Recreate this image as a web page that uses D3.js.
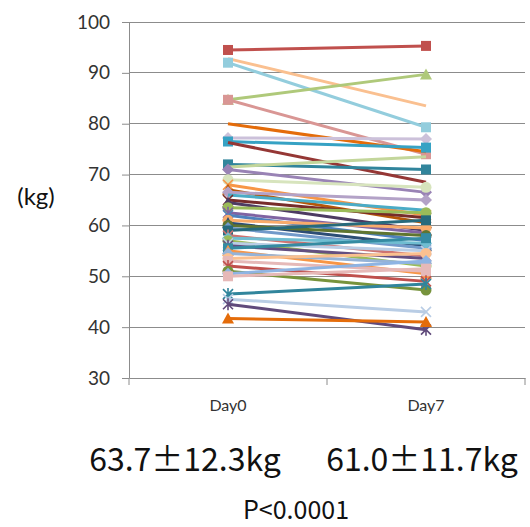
<!DOCTYPE html>
<html>
<head>
<meta charset="utf-8">
<script src="https://cdn.jsdelivr.net/npm/d3@7"></script>
<style>
  body { margin: 0; background: #fff; }
  svg { display: block; }
</style>
</head>
<body>
<svg id="chart"></svg>
<script>
// data: one subject per index
const days = ["Day0", "Day7"];
const yTicks = [30, 40, 50, 60, 70, 80, 90, 100];
const day0 = [94.5, 92.8, 92.0, 84.7, 84.7, 80.0, 77.2, 76.5, 76.3, 72.0, 71.5, 71.0, 69.0, 68.0, 67.0,
              66.5, 66.0, 65.0, 64.5, 63.5, 62.5, 62.0, 61.0, 60.5, 60.0, 59.5, 59.0, 58.0, 57.5, 57.0,
              56.5, 56.0, 55.5, 55.0, 54.5, 53.5, 53.0, 52.0, 51.0, 50.5, 50.0, 46.5, 45.5, 44.5, 41.7];
const day7 = [95.3, 83.5, 79.3, 89.7, 74.0, 74.5, 77.0, 75.3, 68.5, 71.0, 73.5, 66.5, 67.5, 62.0, 60.5,
              65.0, 63.0, 61.5, 59.0, 62.5, 58.5, 57.0, 59.5, 56.0, 58.0, 55.5, 61.0, 54.0, 56.5, 52.0,
              55.0, 53.5, 57.5, 50.5, 52.5, 54.5, 51.0, 49.0, 47.3, 53.0, 51.5, 48.5, 43.0, 39.5, 41.0];
const statLabels = ["63.7\u00b112.3kg", "61.0\u00b111.7kg"];
const pLabel = "P<0.0001";

// series look (Excel-like automatic colours and markers)
const lineColors = ["#C0504D", "#FAC090", "#93CDDD", "#AFC97A", "#D99694", "#E46C0A", "#CCC1DA", "#36A2C4", "#953735",
  "#31859C", "#C3D69B", "#9983B5", "#D7E4BD", "#F79646", "#B65708", "#B3A2C7", "#4BACC6", "#772C2A", "#4D3B62",
  "#9BBB59", "#8064A2", "#4F81BD", "#F9AB6B", "#2C4D75", "#5F7530", "#729ACA", "#276A7C", "#CD7371", "#6FBDD1",
  "#9BBB59", "#B9CDE5", "#644F81", "#358BA2", "#F79646", "#95B3D7", "#FAC090", "#E6B9B8", "#C0504D", "#77933C",
  "#8EB4E3", "#E6B9B8", "#31859C", "#B9CDE5", "#604A7B", "#E46C0A"];
const markers = ["square", "none", "square", "triangle", "square", "none", "diamond", "square", "none",
  "square", "none", "diamond", "circle", "x", "triangle", "diamond", "none", "x", "triangle",
  "circle", "star", "x", "circle", "triangle", "circle", "diamond", "square", "star", "diamond",
  "circle", "x", "star", "square", "triangle", "diamond", "circle", "square", "star", "circle",
  "diamond", "square", "star", "x", "star", "triangle"];

const width = 530, height = 527;
const svg = d3.select("#chart").attr("width", width).attr("height", height);

const x = d3.scaleBand().domain(days).range([129, 525]);
const y = d3.scaleLinear().domain([30, 100]).range([378, 22]);
const cx = d => x(d) + x.bandwidth() / 2;

const font = "Lato, 'Open Sans', sans-serif";
const jpFont = "'Noto Sans CJK JP', 'Noto Sans', sans-serif";

// gridlines
svg.append("g")
    .selectAll("line")
    .data(yTicks.slice(1))
    .enter().append("line")
    .attr("x1", 129).attr("x2", 525)
    .attr("y1", d => y(d)).attr("y2", d => y(d))
    .attr("stroke", "#8c8c8c").attr("stroke-width", 1)
    .attr("shape-rendering", "crispEdges");

// y axis
const yAxis = svg.append("g")
    .attr("transform", "translate(129,0)")
    .call(d3.axisLeft(y).tickValues(yTicks).tickSize(7).tickPadding(12).tickSizeOuter(0));
yAxis.select(".domain").attr("stroke", "#8c8c8c");
yAxis.selectAll(".tick line").attr("stroke", "#8c8c8c");
yAxis.selectAll("text").attr("font-family", font).attr("font-size", 19).attr("fill", "#333");

// x axis, ticks on category boundaries
const xAxis = svg.append("g")
    .attr("transform", "translate(0,378)")
    .call(d3.axisBottom(x).tickSize(0).tickPadding(22).tickSizeOuter(0));
xAxis.select(".domain").attr("stroke", "#8c8c8c");
xAxis.selectAll("text").attr("font-family", font).attr("font-size", 16).attr("fill", "#333");
xAxis.selectAll("line.bound")
    .data([129, 327, 525])
    .enter().append("line")
    .attr("class", "bound")
    .attr("x1", d => d).attr("x2", d => d)
    .attr("y1", 0).attr("y2", 7)
    .attr("stroke", "#8c8c8c");

// series lines
const line = d3.line().x(d => cx(d.day)).y(d => y(d.v));
const series = day0.map((v, i) => ({
    i: i,
    pts: [{day: days[0], v: v}, {day: days[1], v: day7[i]}]
}));

const g = svg.append("g");
series.forEach(s => {
    const col = lineColors[s.i];
    g.append("path")
        .attr("d", line(s.pts))
        .attr("fill", "none")
        .attr("stroke", col)
        .attr("stroke-width", 3);
    s.pts.forEach(p => drawMarker(g, markers[s.i], cx(p.day), y(p.v), col));
});

function drawMarker(parent, type, px, py, col) {
    const r = 5;
    if (type === "none") return;
    if (type === "square") {
        parent.append("rect").attr("x", px - r).attr("y", py - r)
            .attr("width", 2 * r).attr("height", 2 * r).attr("fill", col);
    } else if (type === "diamond") {
        parent.append("path").attr("d", `M${px},${py - r - 1}L${px + r + 1},${py}L${px},${py + r + 1}L${px - r - 1},${py}Z`)
            .attr("fill", col);
    } else if (type === "triangle") {
        parent.append("path").attr("d", `M${px},${py - r - 1}L${px + r + 1},${py + r}L${px - r - 1},${py + r}Z`)
            .attr("fill", col);
    } else if (type === "circle") {
        parent.append("circle").attr("cx", px).attr("cy", py).attr("r", r + 0.5).attr("fill", col);
    } else {
        // x and star (asterisk)
        let d = `M${px - r},${py - r}L${px + r},${py + r}M${px - r},${py + r}L${px + r},${py - r}`;
        if (type === "star") d += `M${px},${py - r - 1}L${px},${py + r + 1}`;
        parent.append("path").attr("d", d).attr("fill", "none")
            .attr("stroke", col).attr("stroke-width", 1.6);
    }
}

// unit label
svg.append("text")
    .attr("x", 36).attr("y", 205)
    .attr("text-anchor", "middle")
    .attr("font-family", font).attr("font-size", 24).attr("fill", "#111")
    .text("(kg)");

// mean +- sd under each day
svg.append("g")
    .selectAll("text")
    .data(statLabels)
    .enter().append("text")
    .attr("x", (d, i) => [185, 422][i])
    .attr("y", 471)
    .attr("text-anchor", "middle")
    .attr("font-family", jpFont)
    .attr("font-size", 32).attr("fill", "#111")
    .text(d => d);

svg.append("text")
    .attr("x", 296).attr("y", 519)
    .attr("text-anchor", "middle")
    .attr("font-family", jpFont)
    .attr("font-size", 25).attr("fill", "#111")
    .text(pLabel);
</script>
</body>
</html>
